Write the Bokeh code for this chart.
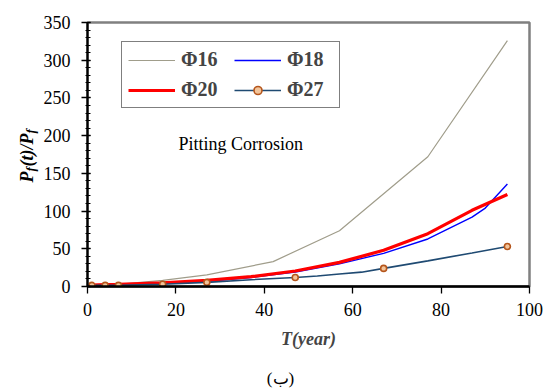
from bokeh.plotting import figure
from bokeh.layouts import row, column
from bokeh.models import (Range1d, SingleIntervalTicker, Legend, LegendItem, Label)
from bokeh.core.properties import value
from bokeh.embed import file_html
from bokeh.resources import INLINE
import math

# Failure-probability ratio over time for different bar diameters (pitting corrosion)
t16 = [1, 4, 7, 17, 27, 42, 57, 77, 95]
v16 = [1.5, 2, 3, 8, 15.5, 33, 74, 172, 326]

t18 = [1, 4, 7, 17, 27, 37, 47, 57, 67, 77, 87, 90, 95]
v18 = [1.5, 2, 2.5, 4, 7, 12, 19, 30, 44, 63, 92, 104, 136]

t20 = [1, 4, 7, 17, 27, 37, 47, 57, 67, 77, 87, 95]
v20 = [2, 2.5, 3, 5, 8, 13, 20.5, 32, 48, 70, 101, 122]

t27 = [1, 4, 7, 17, 27, 37, 47, 52, 57, 62, 67, 77, 87, 95]
v27 = [1.5, 1.5, 1.5, 3, 5.5, 9, 12, 14, 16.5, 19, 24, 34, 44.5, 53]
t27_marks = [1, 4, 7, 17, 27, 47, 67, 95]
v27_marks = [1.5, 1.5, 1.5, 3, 5.5, 12, 24, 53]

series_names = ["\u03a616", "\u03a618", "\u03a620", "\u03a627"]
x_ticks_step = 20
y_ticks_step = 50

SERIF = "Liberation Serif"
H_MAIN = 360
H_FOOT = 30
FRAME_H = 264  # plot-area height; the side strip's frame lines up with it


def text_strip(w, h, yspan):
    """Blank figure whose data units are pixels, used to hold free text."""
    f = figure(width=w, height=h, output_backend="svg", title=None,
               toolbar_location=None, x_range=Range1d(0, w), y_range=Range1d(0, yspan),
               x_axis_location=None, y_axis_location=None,
               min_border=0, min_border_left=0, min_border_right=0,
               min_border_top=0, min_border_bottom=0)
    f.grid.visible = False
    f.outline_line_color = None
    f.background_fill_color = "white"
    f.border_fill_color = "white"
    return f


# ---- main chart ----
p = figure(width=504, height=H_MAIN, output_backend="svg", toolbar_location=None,
           x_range=Range1d(0, 100), y_range=Range1d(0, 350),
           min_border_left=47, min_border_right=15, min_border_top=22,
           min_border_bottom=74)
p.background_fill_color = "white"
p.border_fill_color = "white"
p.xgrid.grid_line_color = None
p.ygrid.grid_line_color = None
p.outline_line_color = "#808080"
p.outline_line_width = 2.5

p.xaxis.ticker = SingleIntervalTicker(interval=x_ticks_step, num_minor_ticks=0)
p.yaxis.ticker = SingleIntervalTicker(interval=y_ticks_step, num_minor_ticks=5)
for ax in (p.xaxis[0], p.yaxis[0]):
    ax.axis_line_color = "black"
    ax.major_tick_line_color = "black"
    ax.minor_tick_line_color = "black"
    ax.major_label_text_font = SERIF
    ax.major_label_text_font_size = "18px"
    ax.major_label_text_color = "black"
p.xaxis.axis_line_width = 2.5
p.yaxis.axis_line_width = 2.2
p.xaxis.major_tick_out = 7
p.xaxis.major_tick_in = 0
p.xaxis.major_tick_line_width = 1.3
p.xaxis.minor_tick_line_color = None
p.xaxis.major_label_standoff = 9
p.yaxis.major_tick_out = 6
p.yaxis.major_tick_in = 3
p.yaxis.major_tick_line_width = 1.3
p.yaxis.minor_tick_out = 2
p.yaxis.minor_tick_in = 3
p.yaxis.minor_tick_line_width = 1.2
p.yaxis.major_label_standoff = 11

p.xaxis.axis_label = "T(year)"
p.xaxis.axis_label_text_font = SERIF
p.xaxis.axis_label_text_font_style = "bold italic"
p.xaxis.axis_label_text_font_size = "18px"
p.xaxis.axis_label_standoff = 10

# curves
r16 = p.line(t16, v16, line_color="#a09d8b", line_width=1.2)
r18 = p.line(t18, v18, line_color="#0000ff", line_width=1.4)
r20 = p.line(t20, v20, line_color="#ff0000", line_width=3.2)
r27 = p.line(t27, v27, line_color="#1f4a72", line_width=1.6)
r27m = p.scatter(t27_marks, v27_marks, size=6, marker="circle",
                 line_color="#b5561c", line_width=1.6, fill_color="#f2c49a")

# column-major fill: first column holds the 16 and 20 entries
legend = Legend(items=[
    LegendItem(label=series_names[0], renderers=[r16]),
    LegendItem(label=series_names[2], renderers=[r20]),
    LegendItem(label=series_names[1], renderers=[r18]),
    LegendItem(label=series_names[3], renderers=[r27, r27m]),
], ncols=2, location=(34, 178))
legend.label_text_font = SERIF
legend.label_text_font_style = "bold"
legend.label_text_font_size = "20px"
legend.glyph_width = 47
legend.glyph_height = 20
legend.label_height = 20
legend.label_width = 46
legend.label_standoff = 6
legend.padding = 6
legend.spacing = 7
legend.margin = 0
legend.border_line_color = "black"
legend.border_line_width = 1.2
legend.background_fill_color = "white"
legend.background_fill_alpha = 1
p.add_layout(legend)

p.add_layout(Label(x=20.6, y=189, text="Pitting Corrosion", text_font=SERIF,
                   text_font_size="18px", text_color="black",
                   text_baseline="alphabetic"))

# ---- rotated y-axis title P_f(t)/P_f in a narrow strip on the left ----
ylab = text_strip(40, H_MAIN, FRAME_H)
ylab_text = ["P", "f", "(t)/P", "f"]
ylab_x = [26, 30, 26, 30]
ylab_y = [104, 115, 120, 153]
ylab_size = ["18px", "13px", "18px", "13px"]
ylab.text(x=ylab_x, y=ylab_y, text=ylab_text, angle=math.pi / 2,
          text_font=value(SERIF), text_font_style="bold italic",
          text_font_size=ylab_size, text_color="black",
          text_align="left", text_baseline="alphabetic")

# ---- caption strip below ----
foot = text_strip(544, H_FOOT, H_FOOT)
foot.text(x=[280], y=[12], text=["(\u0628)"], text_font=value(SERIF),
          text_font_size="17px", text_color="black",
          text_align="center", text_baseline="middle")

layout = column(row(ylab, p, spacing=0), foot, spacing=0)
open("out.html", "w").write(file_html(layout, INLINE))
